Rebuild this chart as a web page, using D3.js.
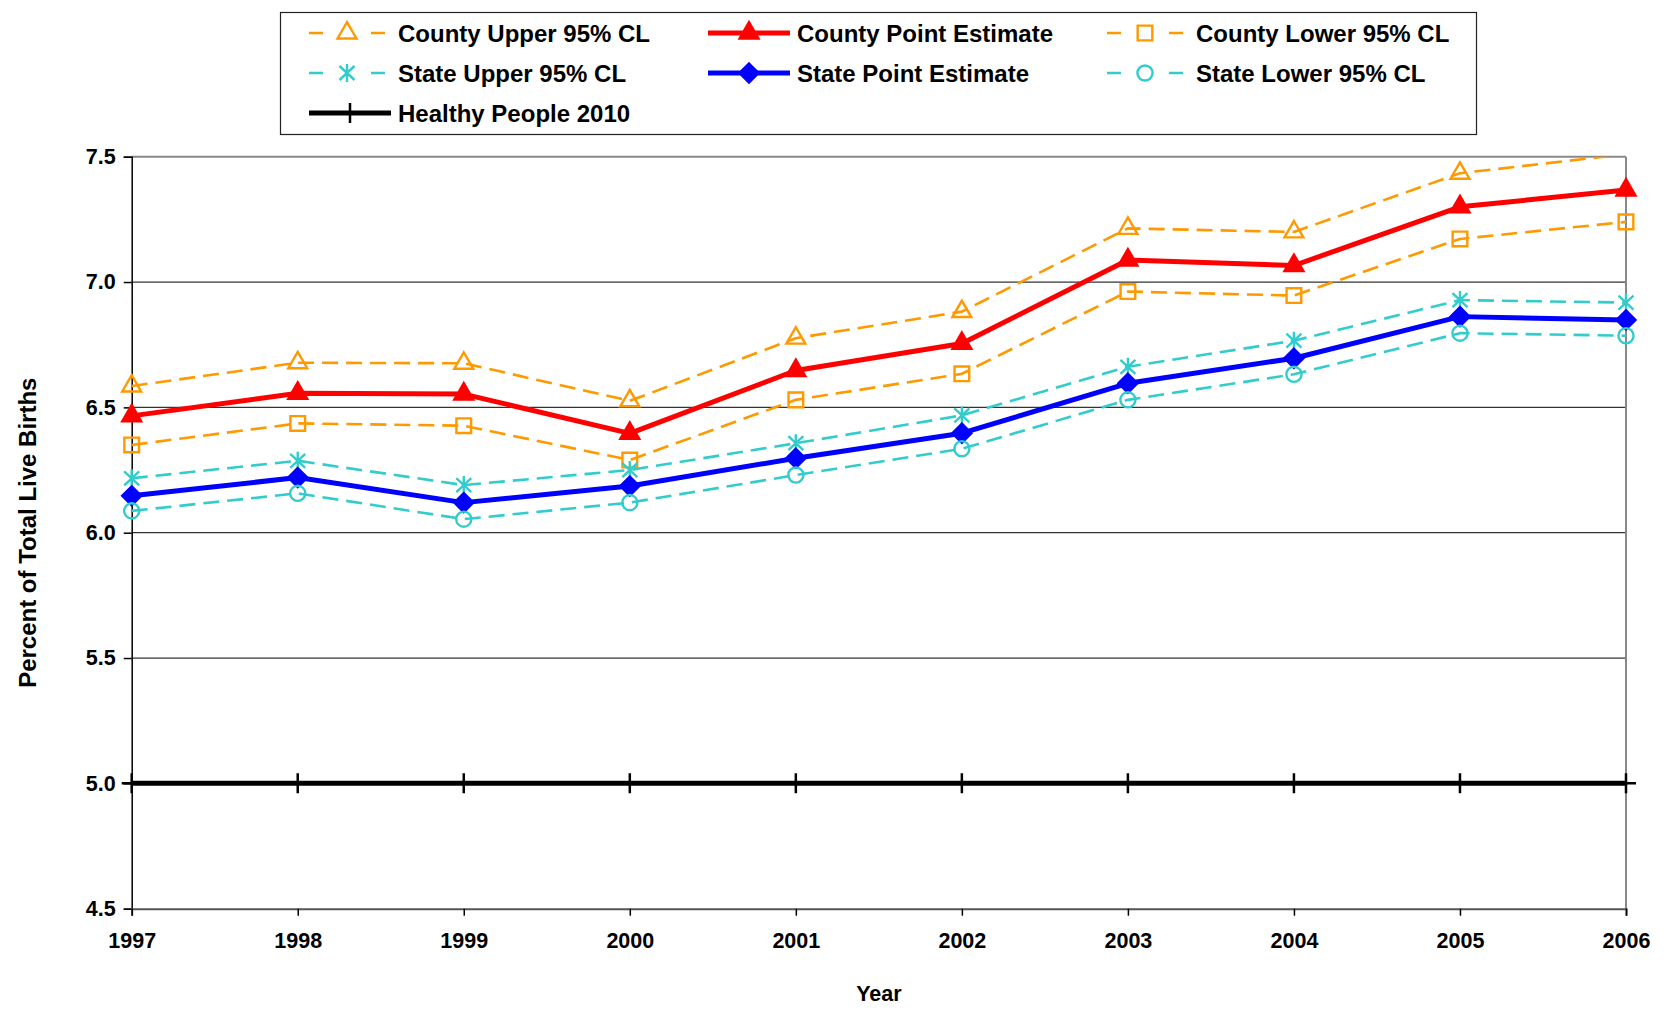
<!DOCTYPE html>
<html>
<head>
<meta charset="utf-8">
<script src="https://cdn.jsdelivr.net/npm/d3@7"></script>
<style>
  body { margin: 0; background: #fff; }
  svg { display: block; font-family: "Liberation Sans", Arial, sans-serif; font-weight: bold; }
</style>
</head>
<body>
<div class="chart"></div>
<script>
(function(){
  'use strict';

  // Chart data.
  var years = [1997, 1998, 1999, 2000, 2001, 2002, 2003, 2004, 2005, 2006];
  var countyUpper = [6.585, 6.678, 6.676, 6.526, 6.776, 6.882, 7.214, 7.20, 7.434, 7.51];
  var countyPoint = [6.466, 6.556, 6.553, 6.396, 6.647, 6.755, 7.088, 7.066, 7.30, 7.367];
  var countyLower = [6.35, 6.436, 6.427, 6.29, 6.53, 6.634, 6.962, 6.946, 7.172, 7.24];
  var stateUpper = [6.217, 6.287, 6.19, 6.25, 6.357, 6.468, 6.662, 6.766, 6.928, 6.918];
  var statePoint = [6.147, 6.22, 6.12, 6.186, 6.297, 6.397, 6.596, 6.696, 6.862, 6.849];
  var stateLower = [6.087, 6.157, 6.054, 6.12, 6.23, 6.335, 6.53, 6.632, 6.796, 6.786];
  var healthyPeople = [5.0, 5.0, 5.0, 5.0, 5.0, 5.0, 5.0, 5.0, 5.0, 5.0];
  var yTicks = [4.5, 5.0, 5.5, 6.0, 6.5, 7.0, 7.5];

  var series = [
    { name: 'County Upper 95% CL', values: countyUpper, color: '#FF9900', width: 2.6, dash: '16,8', marker: 'triangle', fill: 'none' },
    { name: 'County Point Estimate', values: countyPoint, color: '#FF0000', width: 5, dash: null, marker: 'triangle', fill: '#FF0000' },
    { name: 'County Lower 95% CL', values: countyLower, color: '#FF9900', width: 2.6, dash: '16,8', marker: 'square', fill: 'none' },
    { name: 'State Upper 95% CL', values: stateUpper, color: '#33CCCC', width: 2.6, dash: '16,8', marker: 'star', fill: 'none' },
    { name: 'State Point Estimate', values: statePoint, color: '#0000FF', width: 5, dash: null, marker: 'diamond', fill: '#0000FF' },
    { name: 'State Lower 95% CL', values: stateLower, color: '#33CCCC', width: 2.6, dash: '16,8', marker: 'circle', fill: 'none' },
    { name: 'Healthy People 2010', values: healthyPeople, color: '#000000', width: 5, dash: null, marker: 'plus', fill: 'none' }
  ];

  var W = 1669, H = 1013;
  var plot = { left: 131.7, right: 1626, top: 156.7, bottom: 908.7 };

  var svg = d3.select('.chart').append('svg')
      .attr('width', W)
      .attr('height', H);

  var x = d3.scalePoint()
      .domain(years)
      .range([plot.left, plot.right]);

  var y = d3.scaleLinear()
      .domain([4.5, 7.5])
      .range([plot.bottom, plot.top]);

  // Marker shapes.
  var markerPath = function(type) {
    if (type == 'triangle') return d3.symbol().type(d3.symbolTriangle).size(155)();
    if (type == 'square') return d3.symbol().type(d3.symbolSquare).size(215)();
    if (type == 'diamond') return 'M0,-9.5L9.5,0L0,9.5L-9.5,0Z';
    if (type == 'circle') return d3.symbol().type(d3.symbolCircle).size(180)();
    if (type == 'star') return 'M0,-9V9M-7.5,-7L7.5,7M-7.5,7L7.5,-7';
    if (type == 'plus') return 'M0,-10V10M-10,0H10';
    return '';
  };

  // Clip for lines.
  svg.append('clipPath')
      .attr('id', 'plotclip')
    .append('rect')
      .attr('x', plot.left - 20)
      .attr('y', plot.top)
      .attr('width', plot.right - plot.left + 40)
      .attr('height', plot.bottom - plot.top);

  // Gridlines.
  svg.append('g')
    .selectAll('line')
    .data(yTicks.filter(function(t){ return t > 4.5 && t < 7.5; }))
    .enter()
    .append('line')
      .attr('x1', plot.left)
      .attr('x2', plot.right)
      .attr('y1', function(d){ return y(d); })
      .attr('y2', function(d){ return y(d); })
      .attr('stroke', '#333')
      .attr('stroke-width', 1.2);

  // Plot border top / right.
  svg.append('line')
      .attr('x1', plot.left).attr('x2', plot.right)
      .attr('y1', plot.top).attr('y2', plot.top)
      .attr('stroke', '#888').attr('stroke-width', 2);
  svg.append('line')
      .attr('x1', plot.right).attr('x2', plot.right)
      .attr('y1', plot.top).attr('y2', plot.bottom)
      .attr('stroke', '#888').attr('stroke-width', 2);

  // Axes.
  var yAxis = d3.axisLeft(y)
      .tickValues(yTicks)
      .tickSize(8)
      .tickPadding(8)
      .tickFormat(d3.format('.1f'));

  var gy = svg.append('g')
      .attr('transform', 'translate(' + plot.left + ',0)')
      .call(yAxis);
  gy.select('.domain').attr('stroke', '#000').attr('stroke-width', 1.5);
  gy.selectAll('.tick line').attr('stroke', '#000').attr('stroke-width', 1.5);
  gy.selectAll('text')
      .attr('font-size', 21.5)
      .attr('font-family', '"Liberation Sans", Arial, sans-serif')
      .attr('font-weight', 'bold')
      .attr('fill', '#000');

  var xAxis = d3.axisBottom(x)
      .tickSize(7)
      .tickPadding(17);

  var gx = svg.append('g')
      .attr('transform', 'translate(0,' + plot.bottom + ')')
      .call(xAxis);
  gx.select('.domain').attr('stroke', '#555').attr('stroke-width', 2);
  gx.selectAll('.tick line').attr('stroke', '#000').attr('stroke-width', 1.5);
  gx.selectAll('text')
      .attr('font-size', 21.5)
      .attr('font-family', '"Liberation Sans", Arial, sans-serif')
      .attr('font-weight', 'bold')
      .attr('fill', '#000');

  // Axis titles.
  svg.append('text')
      .attr('transform', 'translate(36,' + ((plot.top + plot.bottom) / 2) + ') rotate(-90)')
      .attr('text-anchor', 'middle')
      .attr('font-size', 24)
      .text('Percent of Total Live Births');

  svg.append('text')
      .attr('x', (plot.left + plot.right) / 2)
      .attr('y', 1001)
      .attr('text-anchor', 'middle')
      .attr('font-size', 21.5)
      .text('Year');

  // Series lines.
  var line = d3.line()
      .x(function(d, i){ return x(years[i]); })
      .y(function(d){ return y(d); });

  var gs = svg.append('g');
  series.forEach(function(s) {
    gs.append('path')
        .datum(s.values)
        .attr('clip-path', 'url(#plotclip)')
        .attr('d', line)
        .attr('fill', 'none')
        .attr('stroke', s.color)
        .attr('stroke-width', s.width)
        .attr('stroke-dasharray', s.dash)
        .attr('stroke-linejoin', 'round');

    // Markers, hidden when above the axis max.
    var pts = s.values.map(function(v, i){ return { v: v, yr: years[i] }; })
        .filter(function(d){ return d.v <= 7.5; });
    gs.selectAll(null)
        .data(pts)
        .enter()
        .append('path')
          .attr('transform', function(d){ return 'translate(' + x(d.yr) + ',' + y(d.v) + ')'; })
          .attr('d', markerPath(s.marker))
          .attr('fill', s.fill)
          .attr('stroke', s.color)
          .attr('stroke-width', s.marker == 'plus' ? 2.5 : 2.4);
  });

  // Legend.
  var lg = svg.append('g');
  lg.append('rect')
      .attr('x', 280.5)
      .attr('y', 12.5)
      .attr('width', 1196)
      .attr('height', 122)
      .attr('fill', '#fff')
      .attr('stroke', '#222')
      .attr('stroke-width', 1.2);

  var cols = [309, 708, 1107];
  var rows = [33, 73, 113];

  series.forEach(function(s, i) {
    var lx = cols[i % 3];
    var ly = rows[Math.floor(i / 3)];
    var len = s.dash ? 76 : 82;
    var item = lg.append('g').attr('transform', 'translate(' + lx + ',' + ly + ')');
    item.append('line')
        .attr('x1', 0)
        .attr('x2', len)
        .attr('y1', 0)
        .attr('y2', 0)
        .attr('stroke', s.color)
        .attr('stroke-width', s.width)
        .attr('stroke-dasharray', s.dash ? '14,48' : null);
    item.append('path')
        .attr('transform', 'translate(' + (len / 2) + ',0)')
        .attr('d', markerPath(s.marker))
        .attr('fill', s.fill)
        .attr('stroke', s.color)
        .attr('stroke-width', s.marker == 'plus' ? 2.5 : 2.4);
    item.append('text')
        .attr('x', 89)
        .attr('y', 0)
        .attr('dy', '0.36em')
        .attr('font-size', 24)
        .text(s.name);
  });
})();
</script>
</body>
</html>
